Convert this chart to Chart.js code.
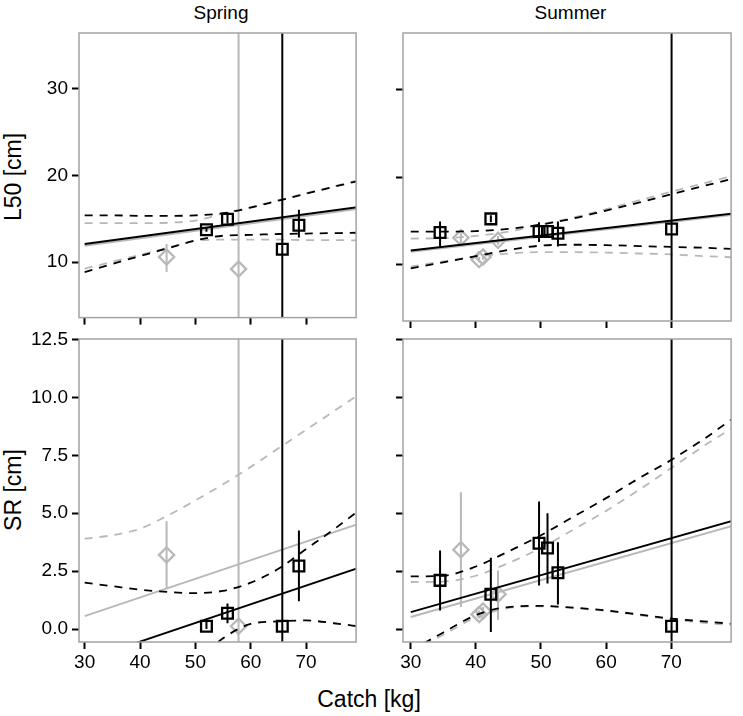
<!DOCTYPE html>
<html><head><meta charset="utf-8">
<script src="https://cdn.jsdelivr.net/npm/chart.js@4/dist/chart.umd.min.js"></script>
<style>
html,body{margin:0;padding:0;background:#fff;}
body{width:743px;height:716px;position:relative;overflow:hidden;font-family:"Liberation Sans",Arial,sans-serif;color:#000;}
canvas{position:absolute;}
.t{position:absolute;white-space:nowrap;line-height:1;color:#000;}
</style></head><body>
<div class="t" style="left:79px;width:284px;text-align:center;top:3px;font-size:19px;">Spring</div>
<div class="t" style="left:403px;width:335px;text-align:center;top:3px;font-size:19px;">Summer</div>
<div class="t" style="left:13px;top:177px;font-size:23px;transform:translate(-50%,-50%) rotate(-90deg);">L50 [cm]</div>
<div class="t" style="left:13px;top:490px;font-size:23px;transform:translate(-50%,-50%) rotate(-90deg);">SR [cm]</div>
<div class="t" style="left:369px;top:688px;font-size:23px;transform:translateX(-50%);">Catch [kg]</div>
<canvas id="c1"></canvas><canvas id="c2"></canvas><canvas id="c3"></canvas><canvas id="c4"></canvas>
<script>
// ---------- data ----------
const catchGrid = [30,35,40,45,50,55,60,65,70,75,80];
const fitX = [30, 80];
const l50Ticks = [10, 20, 30];
const l50TickLabels = ['10','20','30'];
const srTicks = [0, 2.5, 5, 7.5, 10, 12.5];
const srTickLabels = ['0.0','2.5','5.0','7.5','10.0','12.5'];
const catchTicks = [30, 40, 50, 60, 70];
const catchTickLabels = ['30','40','50','60','70'];

// Spring
const springBlackX = [52.0, 55.8, 65.7, 68.7];
const springGrayX = [44.8, 57.8];
const springL50Black = [13.75, 14.95, 11.5, 14.25];
const springL50BlackLo = [13.5, 14.45, -100, 12.85];
const springL50BlackHi = [14.0, 15.75, 100, 16.05];
const springL50Gray = [10.6, 9.2];
const springL50GrayLo = [8.85, -100];
const springL50GrayHi = [12.1, 100];
const springL50BlackFit = [12.1, 16.4];
const springL50GrayFit = [11.9, 16.2];
const springL50BlackUpper = [15.4,15.4,15.35,15.35,15.4,15.65,16.3,17.1,17.9,18.7,19.45];
const springL50BlackLower = [8.85,9.8,10.7,11.6,12.5,13.05,13.15,13.25,13.3,13.35,13.4];
const springL50GrayUpper = [14.5,14.5,14.5,14.55,14.8,15.6,16.35,17.15,17.95,18.75,19.55];
const springL50GrayLower = [9.25,10.05,10.85,11.65,12.45,12.6,12.6,12.6,12.55,12.55,12.5];

const springSRBlack = [0.12, 0.68, 0.12, 2.72];
const springSRBlackLo = [0.0, 0.25, -100, 1.2];
const springSRBlackHi = [0.3, 1.1, 100, 4.25];
const springSRGray = [3.2, 0.12];
const springSRGrayLo = [1.75, -100];
const springSRGrayHi = [4.65, 100];
const springSRBlackFit = [-1.35, 2.68];
const springSRGrayFit = [0.56, 4.58];
const springSRBlackUpper = [2.0,1.85,1.7,1.6,1.55,1.65,2.0,2.6,3.45,4.3,5.2];
const springSRBlackLower = [null,null,null,null,-1.4,-0.4,0.22,0.33,0.37,0.25,0.1];
const springSRGrayUpper = [3.9,4.05,4.33,4.9,5.55,6.25,7.0,7.8,8.6,9.4,10.2];
const springSRGrayLower = [null,null,null,null,null,null,null,null,null,null,null];

// Summer
const summerBlackX = [34.5, 42.3, 49.7, 51.0, 52.6, 70.05];
const summerGrayX = [37.7, 40.5, 41.1, 43.4];
const summerL50Black = [13.7, 15.25, 13.8, 13.8, 13.6, 14.1];
const summerL50BlackLo = [12.1, 14.85, 12.6, 13.2, 12.1, -100];
const summerL50BlackHi = [14.95, 15.65, 14.85, 14.5, 14.95, 100];
const summerL50Gray = [13.1, 10.6, 10.9, 12.8];
const summerL50GrayLo = [12.5, 10.3, 10.6, 12.3];
const summerL50GrayHi = [13.6, 10.9, 11.2, 13.3];
const summerL50BlackFit = [11.64, 15.9];
const summerL50GrayFit = [11.5, 15.75];
const summerL50BlackUpper = [13.8,13.8,13.85,14.1,14.6,15.3,16.2,17.1,18.05,19.0,19.95];
const summerL50BlackLower = [9.6,10.3,11.0,11.7,12.2,12.3,12.25,12.15,12.05,11.95,11.8];
const summerL50GrayUpper = [13.0,13.05,13.3,13.8,14.6,15.4,16.35,17.35,18.35,19.3,20.25];
const summerL50GrayLower = [9.8,10.4,10.95,11.3,11.45,11.45,11.4,11.3,11.2,11.0,10.85];

const summerSRBlack = [2.1, 1.5, 3.7, 3.5, 2.43, 0.12];
const summerSRBlackLo = [0.8, -0.13, 1.88, 1.96, 1.06, -100];
const summerSRBlackHi = [3.39, 3.08, 5.5, 5.0, 3.75, 100];
const summerSRGray = [3.42, 0.63, 0.78, 1.5];
const summerSRGrayLo = [0.95, 0.45, 0.6, 0.4];
const summerSRGrayHi = [5.9, 0.8, 0.95, 2.53];
const summerSRBlackFit = [0.73, 4.72];
const summerSRGrayFit = [0.52, 4.5];
const summerSRBlackUpper = [2.27,2.3,2.7,3.35,4.05,4.85,5.65,6.5,7.3,8.2,9.2];
const summerSRBlackLower = [-0.93,-0.15,0.6,0.95,1.0,0.92,0.8,0.63,0.45,0.33,0.21];
const summerSRGrayUpper = [2.03,2.05,2.3,2.85,3.5,4.3,5.1,6.0,6.95,7.9,8.8];
const summerSRGrayLower = [-1.0,-0.25,0.5,0.9,0.98,0.9,0.78,0.6,0.42,0.27,0.15];

// ---------- styling / building ----------
const BLACK = '#000000';
const GRAY = '#b8b8b8';
const FONT = '"Liberation Sans", Arial, sans-serif';

function pts(xs, ys){ return xs.map((x,i)=>({x:x, y:ys[i]})); }
function bars(xs, lo, hi){
  const out = [];
  xs.forEach((x,i)=>{ out.push({x:x,y:lo[i]},{x:x,y:hi[i]},{x:x,y:null}); });
  return out;
}

function seriesSets(color, style, xs, ys, lo, hi, fit, up, low){
  return [
    {data: pts(xs, ys), showLine:false, pointStyle:style, pointRadius:7.6, pointHoverRadius:7.6,
     pointBorderColor:color, pointBackgroundColor:'rgba(0,0,0,0)', pointBorderWidth:2.3, borderColor:color},
    {data: bars(xs, lo, hi), showLine:true, spanGaps:false, pointRadius:0, borderColor:color, borderWidth:2},
    {data: pts(fitX, fit), showLine:true, pointRadius:0, borderColor:color, borderWidth:1.9},
    {data: pts(catchGrid, up), showLine:true, pointRadius:0, borderColor:color, borderWidth:1.8, borderDash:[8,7], cubicInterpolationMode:'monotone', spanGaps:false},
    {data: pts(catchGrid, low), showLine:true, pointRadius:0, borderColor:color, borderWidth:1.8, borderDash:[8,7], cubicInterpolationMode:'monotone', spanGaps:false}
  ];
}

const boxPlugin = {
  id:'panelBox',
  afterDatasetsDraw(chart){
    const {ctx, chartArea:a} = chart;
    ctx.save();
    ctx.strokeStyle = '#a3a3a3';
    ctx.lineWidth = 1.5;
    ctx.strokeRect(a.left, a.top, a.right - a.left, a.bottom - a.top);
    ctx.restore();
  }
};

function makePanel(cfg){
  const cv = document.getElementById(cfg.id);
  cv.width = cfg.w; cv.height = cfg.h;
  cv.style.left = cfg.left + 'px'; cv.style.top = cfg.top + 'px';
  cv.style.width = cfg.w + 'px'; cv.style.height = cfg.h + 'px';
  const [aL, aT, aR, aB] = cfg.area;
  const yW = aL - cfg.left;
  const xH = cfg.top + cfg.h - aB;
  const datasets = cfg.black.concat(cfg.gray);
  new Chart(cv, {
    type:'line',
    data:{datasets: datasets},
    options:{
      responsive:false, animation:false, devicePixelRatio:1, events:[],
      layout:{padding:{left:0, top:aT - cfg.top, right:cfg.left + cfg.w - aR, bottom:0}},
      plugins:{legend:{display:false}, tooltip:{enabled:false}},
      scales:{
        x:{type:'linear', min:cfg.xMin, max:cfg.xMax,
           afterBuildTicks(s){ s.ticks = catchTicks.map(v=>({value:v})); },
           afterFit(s){ s.height = xH; },
           grid:{drawOnChartArea:false, drawTicks:true, tickLength:7, tickColor:'#000', tickWidth:2},
           border:{display:false},
           ticks:{display:cfg.xLabels, padding:2, color:'#000', maxRotation:0, autoSkip:false,
                  font:{family:FONT, size:19},
                  callback:(v)=>catchTickLabels[catchTicks.indexOf(v)]}},
        y:{type:'linear', min:cfg.yMin, max:cfg.yMax,
           afterBuildTicks(s){ s.ticks = cfg.yTicks.map(v=>({value:v})); },
           afterFit(s){ s.width = yW; },
           grid:{drawOnChartArea:false, drawTicks:true, tickLength:7, tickColor:'#000', tickWidth:2},
           border:{display:false},
           ticks:{display:cfg.yLabels, padding:4, color:'#000', autoSkip:false,
                  font:{family:FONT, size:19},
                  callback:(v)=>cfg.yTickLabels[cfg.yTicks.indexOf(v)]}}
      }
    },
    plugins:[boxPlugin]
  });
}

makePanel({id:'c1', left:0, top:13, w:366, h:320, area:[79,33,363,321],
  xMin:28.98, xMax:79.03, yMin:3.6, yMax:36.45, yTicks:l50Ticks, yTickLabels:l50TickLabels,
  xLabels:false, yLabels:true,
  black: seriesSets(BLACK,'rect',springBlackX,springL50Black,springL50BlackLo,springL50BlackHi,springL50BlackFit,springL50BlackUpper,springL50BlackLower),
  gray: seriesSets(GRAY,'rectRot',springGrayX,springL50Gray,springL50GrayLo,springL50GrayHi,springL50GrayFit,springL50GrayUpper,springL50GrayLower)});

makePanel({id:'c2', left:383, top:13, w:358, h:320, area:[403,33,738,321],
  xMin:28.81, xMax:79.19, yMin:3.6, yMax:36.45, yTicks:l50Ticks, yTickLabels:l50TickLabels,
  xLabels:false, yLabels:false,
  black: seriesSets(BLACK,'rect',summerBlackX,summerL50Black,summerL50BlackLo,summerL50BlackHi,summerL50BlackFit,summerL50BlackUpper,summerL50BlackLower),
  gray: seriesSets(GRAY,'rectRot',summerGrayX,summerL50Gray,summerL50GrayLo,summerL50GrayHi,summerL50GrayFit,summerL50GrayUpper,summerL50GrayLower)});

makePanel({id:'c3', left:0, top:319, w:366, h:362, area:[79,339,363,642],
  xMin:28.98, xMax:79.03, yMin:-0.56, yMax:12.52, yTicks:srTicks, yTickLabels:srTickLabels,
  xLabels:true, yLabels:true,
  black: seriesSets(BLACK,'rect',springBlackX,springSRBlack,springSRBlackLo,springSRBlackHi,springSRBlackFit,springSRBlackUpper,springSRBlackLower),
  gray: seriesSets(GRAY,'rectRot',springGrayX,springSRGray,springSRGrayLo,springSRGrayHi,springSRGrayFit,springSRGrayUpper,springSRGrayLower)});

makePanel({id:'c4', left:383, top:319, w:358, h:362, area:[403,339,738,642],
  xMin:28.81, xMax:79.19, yMin:-0.56, yMax:12.52, yTicks:srTicks, yTickLabels:srTickLabels,
  xLabels:true, yLabels:false,
  black: seriesSets(BLACK,'rect',summerBlackX,summerSRBlack,summerSRBlackLo,summerSRBlackHi,summerSRBlackFit,summerSRBlackUpper,summerSRBlackLower),
  gray: seriesSets(GRAY,'rectRot',summerGrayX,summerSRGray,summerSRGrayLo,summerSRGrayHi,summerSRGrayFit,summerSRGrayUpper,summerSRGrayLower)});
</script>
</body></html>
